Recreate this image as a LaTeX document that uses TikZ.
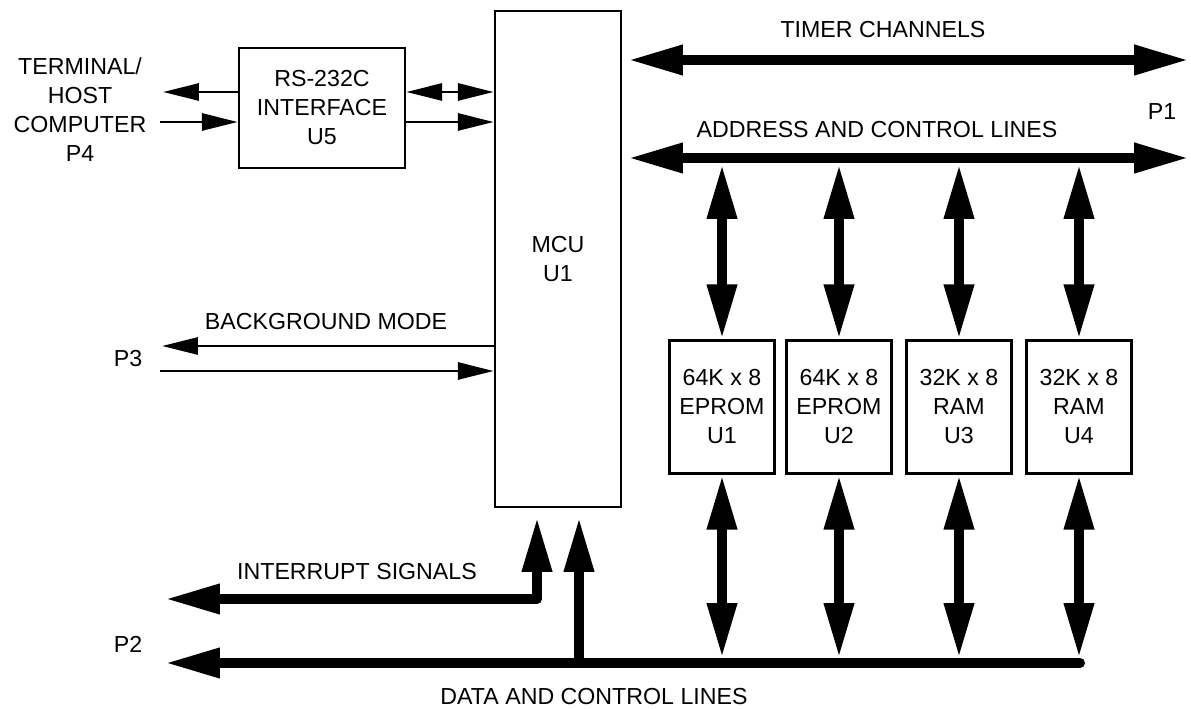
\documentclass[tikz,border=0pt]{standalone}
\usepackage{fontspec}
\setmainfont{Liberation Sans}
\usetikzlibrary{arrows.meta}
\tikzset{
  bigtip/.tip={Triangle[length=1.1cm, width=0.56cm]},
  smalltip/.tip={Triangle[length=0.72cm, width=0.34cm]},
  blk/.style={
    rectangle, draw, line width=1.4pt, align=center, inner sep=0pt,
    font=\fontsize{13.2}{16.5}\selectfont
  },
  mem/.style={blk, minimum width=2.1cm, minimum height=2.66cm},
  lbl/.style={font=\fontsize{13.2}{16.5}\selectfont, align=center, inner sep=0pt},
  sig/.style={line width=1.7pt},
  bus/.style={line width=5.7pt},
}
\begin{document}
\begin{tikzpicture}[x=0.02cm, y=-0.02cm]
\useasboundingbox (0,0) rectangle (1191,709);

% --- Blocks ---
\node[blk, minimum width=2.52cm, minimum height=9.92cm] (mcu) at (558,259) {MCU\\U1};
\node[blk, minimum width=3.32cm, minimum height=2.4cm] (rs) at (322,108) {RS-232C\\INTERFACE\\U5};
\node[mem] (eprom1) at (722,407) {64K x 8\\EPROM\\U1};
\node[mem] (eprom2) at (839,407) {64K x 8\\EPROM\\U2};
\node[mem] (ram3) at (959,407) {32K x 8\\RAM\\U3};
\node[mem] (ram4) at (1079,407) {32K x 8\\RAM\\U4};

% --- Labels ---
\node[lbl] (host) at (80,110) {TERMINAL/\\HOST\\COMPUTER\\P4};
\node[lbl] (timerlbl) at (883,30) {TIMER CHANNELS};
\node[lbl] (addrlbl) at (877,130) {ADDRESS AND CONTROL LINES};
\node[lbl] (p1) at (1162,112) {P1};
\node[lbl] (bgmode) at (326,322) {BACKGROUND MODE};
\node[lbl] (p3) at (128,359) {P3};
\node[lbl] (intlbl) at (357,572) {INTERRUPT SIGNALS};
\node[lbl] (p2) at (128,644) {P2};
\node[lbl] (datalbl) at (594,697) {DATA AND CONTROL LINES};

% --- Bus ends ---
\coordinate (hostout) at (163,92);
\coordinate (hostin) at (160,122);
\coordinate (p3out) at (162,346);
\coordinate (p3in) at (160,371);
\coordinate (timerL) at (628,60);
\coordinate (timerR) at (1189,60);
\coordinate (addrL) at (628,158);
\coordinate (addrR) at (1189,158);
\coordinate (dataL) at (165,663);
\coordinate (dataR) at (1080,663);
\coordinate (datain) at (579,663);
\coordinate (mcudata) at (579,517);
\coordinate (intL) at (165,599);
\coordinate (intU) at (537,517);

% --- Serial port ---
\draw[sig, -smalltip] (rs.west |- hostout) -- (hostout);
\draw[sig, -smalltip] (hostin) -- (rs.west |- hostin);
\draw[sig, smalltip-smalltip] (rs.east |- 0,92) -- (mcu.west |- 0,92);
\draw[sig, -smalltip] (rs.east |- 0,122) -- (mcu.west |- 0,122);

% --- Background mode ---
\draw[sig, -smalltip] (mcu.west |- p3out) -- (p3out);
\draw[sig, -smalltip] (p3in) -- (mcu.west |- p3in);

% --- P1 buses ---
\draw[bus, bigtip-bigtip] (timerL) -- (timerR);
\draw[bus, bigtip-bigtip] (addrL) -- (addrR);
\foreach \m in {eprom1,eprom2,ram3,ram4} {
  \draw[bus, bigtip-bigtip] (\m.north |- 0,164) -- (\m.north);
  \draw[bus, bigtip-bigtip] (\m.south) -- (\m.south |- 0,658);
}

% --- P2 buses ---
\draw[bus, line cap=round, -bigtip] (dataR) -- (dataL);
\draw[bus, -bigtip] (datain) -- (mcudata);
\draw[bus, line join=round, bigtip-bigtip] (intU) |- (intL);

\end{tikzpicture}
\end{document}
